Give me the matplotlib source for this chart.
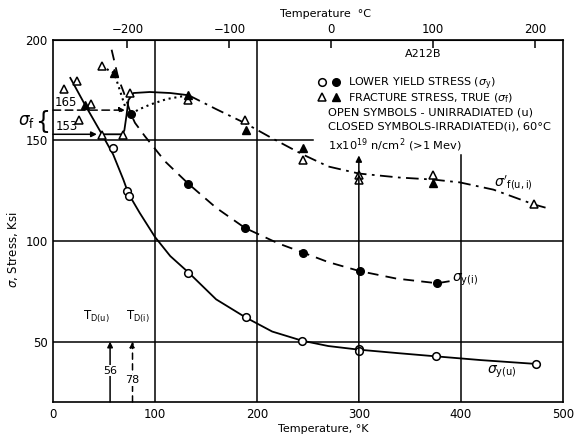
import numpy as np
import matplotlib.pyplot as plt
from matplotlib.legend_handler import HandlerTuple

plt.rcParams['font.family'] = 'DejaVu Sans'

# temperatures in K, stresses in ksi
# open circles - lower yield stress, unirradiated
yu_T = [59, 72.5, 74.5, 132.7, 189, 243.8, 300.3, 300.3, 375.5, 473.5]
yu_S = [146, 124.7, 122.5, 84.3, 62, 50.1, 46.5, 45.2, 42.7, 38.9]
# filled circles - lower yield stress, irradiated
yi_T = [76.5, 132.6, 188.2, 245.4, 301, 376.8]
yi_S = [163, 128.5, 106.5, 94.2, 85, 79]
# open triangles - fracture stress, unirradiated
fu_T = [10.8, 23.2, 25.8, 37, 47.7, 47.7, 68.9, 75.5, 132.7, 188.2, 244.8, 300.3, 300.3, 372.9, 471.9]
fu_S = [175.5, 179.3, 160.3, 168.1, 186.7, 152.6, 152.6, 173.6, 170, 160.1, 140.3, 132.9, 130.4, 132.9, 118.4]
# filled triangles - fracture stress, irradiated
fi_T = [31.4, 60.1, 132.7, 188.9, 244.8, 372.9]
fi_S = [167.7, 183.4, 172.6, 154.9, 146.1, 128.8]

# faired curves
cyu_T = [17, 31, 48, 59, 69, 74, 85, 100, 115, 133, 160, 189, 215, 244, 270, 300, 340, 375, 420, 474]
cyu_S = [181, 168, 153, 143, 130.5, 123.5, 114, 102, 92.5, 84.3, 71, 62, 55, 50.5, 47.8, 46, 44.2, 42.7, 40.8, 38.9]
cyi_T = [57.5, 64, 69.6, 76.5, 80.4, 90.2, 110, 132.6, 160, 188.2, 220.9, 245.4, 270, 301, 336.9, 376.8, 389]
cyi_S = [195, 181, 173.5, 163, 158.7, 152, 139.5, 128.5, 116.5, 106.5, 98.8, 94.2, 89.5, 85, 81.3, 79, 80]
cfu_T = [47.7, 68, 70, 72, 74, 79, 95, 115, 133]
cfu_S = [153, 153, 155, 162, 170, 173.5, 174, 173.5, 172.4]
cfd_T = [133, 160, 188.5, 215, 244.8, 270, 300, 320, 340, 373, 399, 432, 472, 487]
cfd_S = [172.4, 165.5, 158.5, 151, 143, 137, 133.5, 132.5, 131.5, 130.5, 129.1, 125.5, 118.1, 116]
cfi1_T = [47.7, 60.1, 70.6]
cfi1_S = [186.7, 183.4, 167]
cfi2_T = [76.5, 83.6, 95, 111.5, 132.7]
cfi2_S = [163, 165.2, 167.7, 170.5, 172.4]

TD_u, TD_i = 56, 78
sf_u, sf_i = 153, 165

fig = plt.figure(figsize=(5.76, 4.36), dpi=100)
ax = fig.add_axes([0.092, 0.078, 0.885, 0.831])
ax.set_xlim(0, 500)
ax.set_ylim(20, 200)

# grid lines (partial, as drawn)
ax.axhline(150, xmax=255/500, color='k', lw=1.1)
ax.axhline(100, color='k', lw=1.1)
ax.axhline(50, color='k', lw=1.1)
ax.axvline(100, color='k', lw=1.1)
ax.axvline(200, color='k', lw=1.1)
ax.plot([400, 400], [20, 142.5], color='k', lw=1.1)
ax.annotate('', xy=(300, 142.5), xytext=(300, 20),
            arrowprops=dict(arrowstyle='-|>', color='k', lw=1.1, mutation_scale=9, shrinkA=0, shrinkB=0))

# curves
lw = 1.3
ax.plot(cyu_T, cyu_S, color='k', lw=lw)
ax.plot(cyi_T, cyi_S, color='k', lw=lw, ls=(0, (6, 4)))
ax.plot(cfu_T, cfu_S, color='k', lw=lw)
ax.plot(cfd_T, cfd_S, color='k', lw=lw, ls=(0, (7, 3, 1.5, 3)))
ax.plot(cfi1_T, cfi1_S, color='k', lw=1.5, ls=(0, (1, 1.8)))
ax.plot(cfi2_T, cfi2_S, color='k', lw=1.5, ls=(0, (1, 1.8)))

# data points
h_yu, = ax.plot(yu_T, yu_S, 'o', ls='none', mfc='white', mec='k', mew=1.1, ms=5.5)
h_yi, = ax.plot(yi_T, yi_S, 'o', ls='none', mfc='k', mec='k', ms=5.5)
h_fu, = ax.plot(fu_T, fu_S, '^', ls='none', mfc='white', mec='k', mew=1.1, ms=6)
h_fi, = ax.plot(fi_T, fi_S, '^', ls='none', mfc='k', mec='k', ms=6)

# sigma_f arrows at left
ax.annotate('', xy=(43, sf_u), xytext=(0, sf_u),
            arrowprops=dict(arrowstyle='-|>', color='k', lw=1.1, mutation_scale=8, shrinkA=0, shrinkB=0))
ax.annotate('', xy=(70.6, sf_i), xytext=(0, sf_i),
            arrowprops=dict(arrowstyle='-|>', color='k', lw=1.1, ls=(0, (5, 3)), mutation_scale=8, shrinkA=0, shrinkB=0))
ax.text(2, 168.8, str(sf_i), fontsize=8.5, ha='left', va='center')
ax.text(2.5, 156.8, str(sf_u), fontsize=8.5, ha='left', va='center')
ax.text(-0.02, 159, '{', transform=ax.get_yaxis_transform(), fontsize=17, ha='center', va='center', clip_on=False)
ax.text(-0.053, 159.5, r'$\sigma_{\mathrm{f}}$', transform=ax.get_yaxis_transform(), fontsize=12, ha='center', va='center', clip_on=False)

# transition temperatures
ax.annotate('', xy=(TD_u, 50), xytext=(TD_u, 20),
            arrowprops=dict(arrowstyle='-|>', color='k', lw=1.1, mutation_scale=8, shrinkA=0, shrinkB=0))
ax.annotate('', xy=(TD_i, 50), xytext=(TD_i, 20),
            arrowprops=dict(arrowstyle='-|>', color='k', lw=1.1, ls=(0, (4, 3)), mutation_scale=8, shrinkA=0, shrinkB=0))
ax.text(TD_u, 35.5, str(TD_u), fontsize=8, ha='center', va='center', bbox=dict(fc='white', ec='none', pad=0.5))
ax.text(TD_i, 31, str(TD_i), fontsize=8, ha='center', va='center', bbox=dict(fc='white', ec='none', pad=0.5))
ax.text(42, 62.5, r'T$_{\mathrm{D(u)}}$', fontsize=8.5, ha='center', va='center')
ax.text(83, 62.5, r'T$_{\mathrm{D(i)}}$', fontsize=8.5, ha='center', va='center')

# curve labels
ax.text(391, 80.5, r'$\sigma_{\mathrm{y(i)}}$', fontsize=10, ha='left', va='center')
ax.text(426, 35, r'$\sigma_{\mathrm{y(u)}}$', fontsize=10, ha='left', va='center')
ax.text(433, 128.5, r"$\sigma'_{\mathrm{f(u,i)}}$", fontsize=10, ha='left', va='center')

# legend block
ax.text(363, 193, 'A212B', fontsize=8, ha='center', va='center')
ax.legend([(h_yu, h_yi), (h_fu, h_fi)],
          [r'LOWER YIELD STRESS ($\sigma_{\mathrm{y}}$)', r'FRACTURE STRESS, TRUE ($\sigma_{\mathrm{f}}$)'],
          handler_map={tuple: HandlerTuple(ndivide=None, pad=0.6)},
          loc='upper left', bbox_to_anchor=(0.52, 0.902), frameon=False, fontsize=8,
          handlelength=2.0, handletextpad=0.7, labelspacing=0.0, borderpad=0, borderaxespad=0)
ax.text(269.6, 164, 'OPEN SYMBOLS - UNIRRADIATED (u)', fontsize=8.2, ha='left', va='center')
ax.text(269.6, 156.7, 'CLOSED SYMBOLS-IRRADIATED(i), 60°C', fontsize=8.2, ha='left', va='center')
ax.text(269.6, 147.5, r'1x10$^{19}$ n/cm$^{2}$ (>1 Mev)', fontsize=8.2, ha='left', va='center')

# axes
ax.set_xticks([0, 100, 200, 300, 400, 500])
ax.set_yticks([50, 100, 150, 200])
ax.tick_params(length=0, labelsize=8.5, pad=4)
for s in ax.spines.values():
    s.set_linewidth(1.2)

secax = ax.secondary_xaxis('top', functions=(lambda t: t - 273, lambda c: c + 273))
secax.set_xticks([-200, -100, 0, 100, 200])
secax.set_xticklabels(['\u2212200', '\u2212100', '0', '100', '200'])
secax.tick_params(direction='in', length=6, width=1.1, labelsize=8.5, pad=3)

fig.text(325/576, 1 - 14/436, 'Temperature  °C', fontsize=8, ha='center', va='center')
fig.text(323/576, 1 - 429/436, 'Temperature, °K', fontsize=8, ha='center', va='center')
fig.text(13/576, 1 - 250/436, r'$\sigma$, Stress, Ksi', fontsize=8.5, ha='center', va='center', rotation=90)

plt.savefig('out.png', dpi=100)
